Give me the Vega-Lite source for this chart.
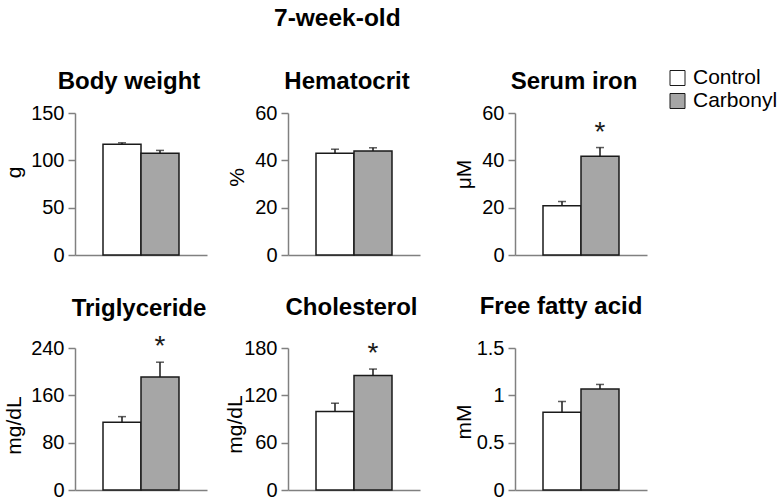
{
  "$schema": "https://vega.github.io/schema/vega-lite/v6.json",
  "autosize": {"type": "none"},
  "padding": {"left": 75, "top": 113, "right": 708, "bottom": 387},
  "background": "white",
  "title": {"text": "7-week-old", "anchor": "start", "frame": "group", "dx": 199, "offset": 36, "fontSize": 24.5},
  "data": {"values": [
    {"panel": "Body weight", "group": "Control", "value": 117, "upper": 118.5, "sig": ""},
    {"panel": "Body weight", "group": "Carbonyl", "value": 107.5, "upper": 110.5, "sig": ""},
    {"panel": "Hematocrit", "group": "Control", "value": 43, "upper": 44.7, "sig": ""},
    {"panel": "Hematocrit", "group": "Carbonyl", "value": 43.9, "upper": 45.3, "sig": ""},
    {"panel": "Serum iron", "group": "Control", "value": 20.8, "upper": 22.6, "sig": ""},
    {"panel": "Serum iron", "group": "Carbonyl", "value": 41.7, "upper": 45.4, "sig": "*"},
    {"panel": "Triglyceride", "group": "Control", "value": 114.6, "upper": 124, "sig": ""},
    {"panel": "Triglyceride", "group": "Carbonyl", "value": 190.8, "upper": 216, "sig": "*"},
    {"panel": "Cholesterol", "group": "Control", "value": 99.5, "upper": 110, "sig": ""},
    {"panel": "Cholesterol", "group": "Carbonyl", "value": 145, "upper": 153.3, "sig": "*"},
    {"panel": "Free fatty acid", "group": "Control", "value": 0.82, "upper": 0.935, "sig": ""},
    {"panel": "Free fatty acid", "group": "Carbonyl", "value": 1.066, "upper": 1.115, "sig": ""}
  ]},
  "columns": 5,
  "align": "none",
  "bounds": "flush",
  "spacing": {"row": 93, "column": 0},
  "concat": [
    {
      "width": 132, "height": 142,
      "title": {"text": "Body weight", "dx": -12, "offset": 9},
      "transform": [{"filter": "datum.panel === 'Body weight'"}],
      "encoding": {
        "x": {"field": "group", "type": "nominal", "sort": ["Control", "Carbonyl"], "scale": {"paddingInner": 0, "paddingOuter": 0.737}},
        "y": {"field": "value", "type": "quantitative", "title": "g", "scale": {"domain": [0, 150], "nice": false}, "axis": {"values": [0, 50, 100, 150], "titleX": -61, "titleY": 59}}
      },
      "layer": [
        {"mark": {"type": "bar", "stroke": "#1a1a1a", "strokeWidth": 1.5},
         "encoding": {"color": {"field": "group", "type": "nominal", "scale": {"domain": ["Control", "Carbonyl"], "range": ["#ffffff", "#a6a6a6"]},
           "legend": {"orient": "none", "legendX": 592, "legendY": -45.5, "title": null, "symbolType": "square", "symbolSize": 225, "symbolStrokeColor": "#333333", "symbolStrokeWidth": 1, "labelFontSize": 21, "labelColor": "black", "labelOffset": 5, "rowPadding": 1, "padding": 0}}}},
        {"mark": {"type": "rule", "color": "#1a1a1a", "strokeWidth": 1.5}, "encoding": {"y2": {"field": "upper"}}},
        {"mark": {"type": "tick", "color": "#1a1a1a", "size": 8, "thickness": 1.5}, "encoding": {"y": {"field": "upper", "type": "quantitative", "title": "g"}}}
      ]
    },
    {"width": 81, "height": 142, "mark": "point", "transform": [{"filter": "false"}], "encoding": {}},
    {
      "width": 132, "height": 142,
      "title": {"text": "Hematocrit", "dx": -7, "offset": 9},
      "transform": [{"filter": "datum.panel === 'Hematocrit'"}],
      "encoding": {
        "x": {"field": "group", "type": "nominal", "sort": ["Control", "Carbonyl"], "scale": {"paddingInner": 0, "paddingOuter": 0.737}},
        "y": {"field": "value", "type": "quantitative", "title": "%", "scale": {"domain": [0, 60], "nice": false}, "axis": {"values": [0, 20, 40, 60], "titleX": -51, "titleY": 64}}
      },
      "layer": [
        {"mark": {"type": "bar", "stroke": "#1a1a1a", "strokeWidth": 1.5},
         "encoding": {"color": {"field": "group", "type": "nominal", "scale": {"domain": ["Control", "Carbonyl"], "range": ["#ffffff", "#a6a6a6"]}}}},
        {"mark": {"type": "rule", "color": "#1a1a1a", "strokeWidth": 1.5}, "encoding": {"y2": {"field": "upper"}}},
        {"mark": {"type": "tick", "color": "#1a1a1a", "size": 8, "thickness": 1.5}, "encoding": {"y": {"field": "upper", "type": "quantitative", "title": "%"}}}
      ]
    },
    {"width": 82, "height": 142, "mark": "point", "transform": [{"filter": "false"}], "encoding": {}},
    {
      "width": 132, "height": 142,
      "title": {"text": "Serum iron", "dx": -7, "offset": 9},
      "transform": [{"filter": "datum.panel === 'Serum iron'"}],
      "encoding": {
        "x": {"field": "group", "type": "nominal", "sort": ["Control", "Carbonyl"], "scale": {"paddingInner": 0, "paddingOuter": 0.737}},
        "y": {"field": "value", "type": "quantitative", "title": "μM", "scale": {"domain": [0, 60], "nice": false}, "axis": {"values": [0, 20, 40, 60], "titleX": -51, "titleY": 61}}
      },
      "layer": [
        {"mark": {"type": "bar", "stroke": "#1a1a1a", "strokeWidth": 1.5},
         "encoding": {"color": {"field": "group", "type": "nominal", "scale": {"domain": ["Control", "Carbonyl"], "range": ["#ffffff", "#a6a6a6"]}}}},
        {"mark": {"type": "rule", "color": "#1a1a1a", "strokeWidth": 1.5}, "encoding": {"y2": {"field": "upper"}}},
        {"mark": {"type": "tick", "color": "#1a1a1a", "size": 8, "thickness": 1.5}, "encoding": {"y": {"field": "upper", "type": "quantitative", "title": "μM"}}},
        {"mark": {"type": "text", "fontSize": 28, "dy": -7, "baseline": "alphabetic", "align": "center", "color": "#1a1a1a", "fontWeight": "lighter"}, "encoding": {"y": {"field": "upper", "type": "quantitative", "title": "μM"}, "text": {"field": "sig"}}}
      ]
    },
    {
      "width": 132, "height": 142,
      "title": {"text": "Triglyceride", "dx": -2, "offset": 12},
      "transform": [{"filter": "datum.panel === 'Triglyceride'"}],
      "encoding": {
        "x": {"field": "group", "type": "nominal", "sort": ["Control", "Carbonyl"], "scale": {"paddingInner": 0, "paddingOuter": 0.737}},
        "y": {"field": "value", "type": "quantitative", "title": "mg/dL", "scale": {"domain": [0, 240], "nice": false}, "axis": {"values": [0, 80, 160, 240], "titleX": -61, "titleY": 77}}
      },
      "layer": [
        {"mark": {"type": "bar", "stroke": "#1a1a1a", "strokeWidth": 1.5},
         "encoding": {"color": {"field": "group", "type": "nominal", "scale": {"domain": ["Control", "Carbonyl"], "range": ["#ffffff", "#a6a6a6"]}}}},
        {"mark": {"type": "rule", "color": "#1a1a1a", "strokeWidth": 1.5}, "encoding": {"y2": {"field": "upper"}}},
        {"mark": {"type": "tick", "color": "#1a1a1a", "size": 8, "thickness": 1.5}, "encoding": {"y": {"field": "upper", "type": "quantitative", "title": "mg/dL"}}},
        {"mark": {"type": "text", "fontSize": 28, "dy": -7, "baseline": "alphabetic", "align": "center", "color": "#1a1a1a", "fontWeight": "lighter"}, "encoding": {"y": {"field": "upper", "type": "quantitative", "title": "mg/dL"}, "text": {"field": "sig"}}}
      ]
    },
    {"width": 81, "height": 142, "mark": "point", "transform": [{"filter": "false"}], "encoding": {}},
    {
      "width": 132, "height": 142,
      "title": {"text": "Cholesterol", "dx": -2.5, "offset": 18},
      "transform": [{"filter": "datum.panel === 'Cholesterol'"}],
      "encoding": {
        "x": {"field": "group", "type": "nominal", "sort": ["Control", "Carbonyl"], "scale": {"paddingInner": 0, "paddingOuter": 0.737}},
        "y": {"field": "value", "type": "quantitative", "title": "mg/dL", "scale": {"domain": [0, 180], "nice": false}, "axis": {"values": [0, 60, 120, 180], "titleX": -53, "titleY": 76}}
      },
      "layer": [
        {"mark": {"type": "bar", "stroke": "#1a1a1a", "strokeWidth": 1.5},
         "encoding": {"color": {"field": "group", "type": "nominal", "scale": {"domain": ["Control", "Carbonyl"], "range": ["#ffffff", "#a6a6a6"]}}}},
        {"mark": {"type": "rule", "color": "#1a1a1a", "strokeWidth": 1.5}, "encoding": {"y2": {"field": "upper"}}},
        {"mark": {"type": "tick", "color": "#1a1a1a", "size": 8, "thickness": 1.5}, "encoding": {"y": {"field": "upper", "type": "quantitative", "title": "mg/dL"}}},
        {"mark": {"type": "text", "fontSize": 28, "dy": -7, "baseline": "alphabetic", "align": "center", "color": "#1a1a1a", "fontWeight": "lighter"}, "encoding": {"y": {"field": "upper", "type": "quantitative", "title": "mg/dL"}, "text": {"field": "sig"}}}
      ]
    },
    {"width": 95, "height": 142, "mark": "point", "transform": [{"filter": "false"}], "encoding": {}},
    {
      "width": 132, "height": 142,
      "title": {"text": "Free fatty acid", "dx": -20, "offset": 19},
      "transform": [{"filter": "datum.panel === 'Free fatty acid'"}],
      "encoding": {
        "x": {"field": "group", "type": "nominal", "sort": ["Control", "Carbonyl"], "scale": {"paddingInner": 0, "paddingOuter": 0.737}},
        "y": {"field": "value", "type": "quantitative", "title": "mM", "scale": {"domain": [0, 1.5], "nice": false}, "axis": {"values": [0, 0.5, 1, 1.5], "format": "~g", "titleX": -51, "titleY": 73.5}}
      },
      "layer": [
        {"mark": {"type": "bar", "stroke": "#1a1a1a", "strokeWidth": 1.5},
         "encoding": {"color": {"field": "group", "type": "nominal", "scale": {"domain": ["Control", "Carbonyl"], "range": ["#ffffff", "#a6a6a6"]}}}},
        {"mark": {"type": "rule", "color": "#1a1a1a", "strokeWidth": 1.5}, "encoding": {"y2": {"field": "upper"}}},
        {"mark": {"type": "tick", "color": "#1a1a1a", "size": 8, "thickness": 1.5}, "encoding": {"y": {"field": "upper", "type": "quantitative", "title": "mM"}}}
      ]
    }
  ],
  "config": {
    "font": "Liberation Sans",
    "view": {"stroke": null},
    "title": {"fontSize": 24, "fontWeight": "bold", "color": "black", "baseline": "alphabetic", "anchor": "middle", "frame": "group"},
    "axis": {"grid": false, "domainColor": "#808080", "domainWidth": 1.5, "tickColor": "#808080", "tickWidth": 1.5, "labelColor": "black", "titleColor": "black"},
    "axisX": {"labels": false, "ticks": false, "title": null},
    "axisY": {"tickSize": 7, "labelPadding": 4, "labelFontSize": 20, "titleFontSize": 21, "titleFontWeight": "normal", "titleBaseline": "middle", "titleAlign": "center"},
    "legend": {"labelFont": "Liberation Sans"}
  }
}
